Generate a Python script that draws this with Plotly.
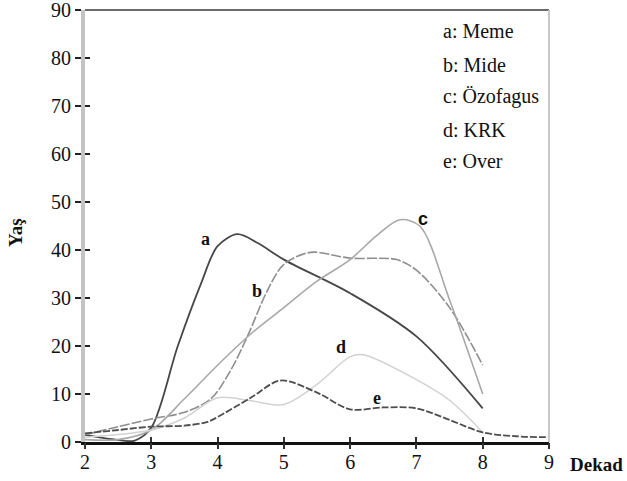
import plotly.graph_objects as go

# ---- data ----
x_ticks = [2, 3, 4, 5, 6, 7, 8, 9]
y_ticks = [0, 10, 20, 30, 40, 50, 60, 70, 80, 90]

a_x = [2, 2.4, 2.75, 3, 3.4, 3.75, 4, 4.3, 4.6, 5, 6, 7, 8]
a_y = [1.5, 0.6, 0.3, 3, 20, 33, 40.8, 43.3, 41.5, 38, 31, 22, 7]

b_x = [2, 2.5, 3, 3.5, 3.9, 4.2, 4.45, 4.75, 5, 5.4, 6, 6.7, 7, 7.5, 8]
b_y = [1.5, 3.2, 4.8, 6.2, 9, 15, 22, 31.5, 37, 39.5, 38.3, 38, 35.8, 28, 16]

c_x = [2, 2.5, 3, 3.5, 4, 4.5, 5, 5.5, 6, 6.4, 6.75, 7.05, 7.5, 8]
c_y = [0.5, 0.5, 2.5, 9, 16, 22.5, 28, 33.5, 38, 43, 46.3, 45, 29.6, 10]

d_x = [2, 3, 3.5, 4, 4.5, 5, 5.5, 6, 6.2, 7, 7.5, 8]
d_y = [1, 2.5, 5, 9.2, 8.6, 7.8, 12, 17.8, 18.2, 13, 8.7, 2]

e_x = [2, 2.5, 3, 3.5, 3.85, 4, 4.5, 4.95, 5.5, 6, 6.5, 7, 7.5, 8, 8.5, 9]
e_y = [1.8, 2.5, 3.2, 3.4, 4.2, 5.2, 9.2, 12.8, 10.3, 6.8, 7.2, 7, 4.6, 2, 1.2, 1]

series_names = ["a: Meme", "b: Mide", "c: Özofagus", "d: KRK", "e: Over"]
curve_letters = ["a", "b", "c", "d", "e"]
label_pos_x = [3.82, 4.6, 7.1, 5.86, 6.4]
label_pos_y = [42.3, 31.5, 46.5, 19.8, 9.2]

# ---- styles ----
colors = ["#474747", "#8e8e8e", "#a8a8a8", "#d2d2d2", "#4e4e4e"]
dashes = ["solid", "10px,2px", "solid", "solid", "7px,2px"]
widths = [1.8, 1.6, 1.6, 1.5, 1.8]
serif = "Liberation Serif"
sans = "Liberation Sans"

fig = go.Figure()
xs = [a_x, b_x, c_x, d_x, e_x]
ys = [a_y, b_y, c_y, d_y, e_y]
for i in range(5):
    fig.add_trace(go.Scatter(
        x=xs[i], y=ys[i], mode="lines", name=series_names[i],
        line=dict(color=colors[i], width=widths[i], dash=dashes[i],
                  shape="spline", smoothing=0.9),
        showlegend=False, hoverinfo="skip"))

# empty trace to register overlay axes (other half of the crossing ticks)
fig.add_trace(go.Scatter(x=[], y=[], xaxis="x2", yaxis="y2",
                         showlegend=False, hoverinfo="skip"))

annotations = []
leg_y = [85.6, 78.5, 71.9, 65.0, 58.5]
for name, yy in zip(series_names, leg_y):
    annotations.append(dict(x=7.37, y=yy, xref="x", yref="y", text=name,
                            showarrow=False, xanchor="left", yanchor="middle",
                            font=dict(family=serif, size=20, color="#111")))
for i, lt in enumerate(curve_letters):
    fam = sans if lt == "c" else serif
    annotations.append(dict(x=label_pos_x[i], y=label_pos_y[i], xref="x", yref="y",
                            text="<b>%s</b>" % lt, showarrow=False,
                            xanchor="center", yanchor="middle",
                            font=dict(family=fam, size=18, color="#111")))
annotations.append(dict(x=1.103, y=-0.053, xref="paper", yref="paper",
                        text="<b>Dekad</b>", showarrow=False,
                        xanchor="center", yanchor="middle",
                        font=dict(family=serif, size=19, color="#111")))
annotations.append(dict(x=-0.151, y=0.486, xref="paper", yref="paper",
                        text="<b>Yaş</b>", showarrow=False, textangle=-90,
                        xanchor="center", yanchor="middle",
                        font=dict(family=serif, size=19, color="#111")))

fig.update_layout(
    width=627, height=481,
    margin=dict(l=85, r=78, t=10, b=39, autoexpand=False),
    paper_bgcolor="white", plot_bgcolor="white",
    font=dict(family=serif, size=19, color="#111"),
    annotations=annotations,
    xaxis=dict(range=[2, 9], tickvals=x_ticks, showgrid=False, zeroline=False,
               showline=True, linecolor="#111", linewidth=2.5, automargin=False,
               ticks="inside", ticklen=5, tickwidth=1.5, tickcolor="#333",
               ticklabeloverflow="allow",
               tickfont=dict(family=serif, size=20, color="#111")),
    yaxis=dict(range=[0, 90], tickvals=y_ticks, showgrid=False, zeroline=False,
               showline=True, linecolor="#c4c4c4", linewidth=4, automargin=False,
               ticks="outside", ticklen=6, tickwidth=2, tickcolor="#222",
               ticklabeloverflow="allow",
               tickfont=dict(family=serif, size=20, color="#111")),
    xaxis2=dict(range=[2, 9], tickvals=x_ticks, overlaying="x", anchor="y",
                side="bottom", showgrid=False, zeroline=False, showline=False,
                ticks="outside", ticklen=6, tickwidth=1.5, tickcolor="#333",
                showticklabels=False, automargin=False),
    yaxis2=dict(range=[0, 90], tickvals=y_ticks, overlaying="y", anchor="x",
                side="left", showgrid=False, zeroline=False, showline=False,
                ticks="inside", ticklen=5, tickwidth=2, tickcolor="#222",
                showticklabels=False, automargin=False),
    shapes=[
        dict(type="line", xref="paper", yref="paper", x0=0, x1=1, y0=1, y1=1,
             line=dict(color="#6a6a6a", width=2)),
        dict(type="line", xref="paper", yref="paper", x0=1, x1=1, y0=0, y1=1,
             line=dict(color="#c8c8c8", width=2)),
    ],
)

fig.write_html("out.html")
